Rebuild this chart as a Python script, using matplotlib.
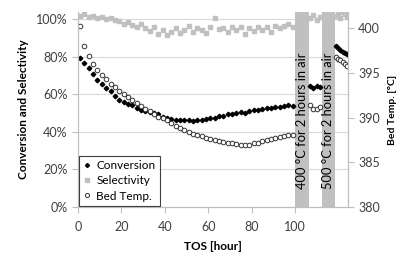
import matplotlib.pyplot as plt
from matplotlib.ticker import PercentFormatter

plt.rcParams['font.family'] = ['Lato', 'DejaVu Sans']

# time on stream before regeneration [hour]
tos = [1, 3, 5, 7, 9, 11, 13, 15, 17, 19, 21, 23, 25, 27, 29, 31, 33, 35, 37, 39,
       41, 43, 45, 47, 49, 51, 53, 55, 57, 59, 61, 63, 65, 67, 69, 71, 73, 75, 77, 79,
       81, 83, 85, 87, 89, 91, 93, 95, 97, 99]
conversion = [79, 76.5, 74, 70.5, 67.5, 65.5, 63.5, 61.5, 59, 57, 56, 55, 54, 52.5, 51.5, 51, 50.5, 50, 49.5, 48,
              47.5, 47, 46.5, 46.5, 46, 46, 45.5, 46, 46.5, 47, 47.5, 47.5, 48.5, 48.5, 49.5, 49.5, 50, 50.5, 50, 51,
              51.5, 51.5, 52, 52.5, 52.5, 53, 53, 53.5, 54, 53.5]
selectivity = [101.5, 102.5, 101, 101.5, 100.5, 101, 100, 100.5, 99.5, 99, 97.5, 98.5, 97, 96, 97.5, 95, 93.5, 95.5, 92, 94,
               91.5, 93, 95, 92.5, 94, 96.5, 93, 95, 94, 92.5, 95.5, 100.5, 94.5, 95, 93, 96, 94, 95.5, 92, 95,
               93.5, 96, 94, 95.5, 93, 96.5, 95, 96.5, 97.5, 96]
bed_temp = [400.2, 398.0, 396.9, 396.0, 395.3, 394.8, 394.3, 393.8, 393.4, 393.0, 392.6, 392.3, 392.0, 391.6, 391.3, 391.0, 390.7, 390.4, 390.1, 389.9,
            389.7, 389.4, 389.1, 388.8, 388.6, 388.4, 388.2, 388.0, 387.9, 387.7, 387.6, 387.5, 387.4, 387.3, 387.1, 387.1, 387.0, 386.9, 386.9, 386.9,
            387.1, 387.2, 387.4, 387.5, 387.6, 387.7, 387.8, 387.9, 388.1, 388.1]

# after 400 C regeneration
tos_r1 = [107, 108.5, 110, 111.5]
conversion_r1 = [64.5, 63.5, 64.5, 64]
selectivity_r1 = [100.5, 102, 99.5, 101]
bed_temp_r1 = [391.4, 391.0, 390.9, 391.2]

# after 500 C regeneration
tos_r2 = [119, 120, 121, 122, 123, 124]
conversion_r2 = [85.5, 84.5, 83.5, 82.5, 82, 81.5]
selectivity_r2 = [101.5, 103, 100.5, 104, 102.5, 101]
bed_temp_r2 = [396.8, 396.6, 396.4, 396.2, 396.0, 395.8]

bands = [(100, 106.5, "400 °C for 2 hours in air"), (112.3, 118.4, "500 °C for 2 hours in air")]

grey = "#bfbfbf"
fig = plt.figure(figsize=(4.04, 2.57), dpi=100)
ax = fig.add_axes([0.193, 0.195, 0.668, 0.758])
ax2 = ax.twinx()

for x0, x1, label in bands:
    ax.axvspan(x0, x1, color="#c0c0c0", lw=0, zorder=1)
    ax.text((x0 + x1) / 2, 0.095, label, rotation=90, ha="center", va="bottom",
            fontsize=9.3, color="black", zorder=2)

all_tos = tos + tos_r1 + tos_r2
ax.plot(all_tos, [v / 100 for v in selectivity + selectivity_r1 + selectivity_r2], ls="none",
        marker="s", ms=3.0, color="#c0c0c0", mec="#c0c0c0", zorder=3, label="Selectivity")
ax.plot(all_tos, [v / 100 for v in conversion + conversion_r1 + conversion_r2], ls="none",
        marker="D", ms=2.3, color="black", zorder=4, label="Conversion")
ax2.plot(all_tos, bed_temp + bed_temp_r1 + bed_temp_r2, ls="none", marker="o", ms=3.3,
         mfc="white", mec="#333333", mew=0.7, label="Bed Temp.")

ax.set_xlim(0, 124.4)
ax.set_ylim(0, 1.037)
ax2.set_ylim(380, 401.8)
ax.set_xticks([0, 20, 40, 60, 80, 100])
ax.set_yticks([0, 0.2, 0.4, 0.6, 0.8, 1.0])
ax.yaxis.set_major_formatter(PercentFormatter(1.0, decimals=0))
ax2.set_yticks([380, 385, 390, 395, 400])
ax.yaxis.grid(True, color="#d9d9d9", lw=0.8)
ax.set_axisbelow(True)

for a in (ax, ax2):
    a.spines["top"].set_visible(False)
    for s in ("left", "bottom", "right"):
        a.spines[s].set_color(grey)
        a.spines[s].set_linewidth(0.8)
    a.tick_params(labelsize=9, length=4, width=0.8, colors="#404040")
    a.tick_params(color=grey)
ax.tick_params(axis="x", pad=6)

ax.set_xlabel("TOS [hour]", fontsize=8.5, fontweight="bold", labelpad=6)
ax.set_ylabel("Conversion and Selectivity", fontsize=8.5, fontweight="bold", labelpad=5)
ax2.set_ylabel("Bed Temp. [°C]", fontsize=7.5, fontweight="bold", labelpad=6)

h1, l1 = ax.get_legend_handles_labels()
h2, l2 = ax2.get_legend_handles_labels()
handles = [h1[1], h1[0], h2[0]]
labels = [l1[1], l1[0], l2[0]]
leg = ax2.legend(handles, labels, loc="lower left", bbox_to_anchor=(0.0, 0.0), fontsize=8.5,
                 frameon=True, fancybox=False, edgecolor="#404040", framealpha=1,
                 handlelength=0.6, handletextpad=0.5, borderpad=0.35, labelspacing=0.35,
                 borderaxespad=0.1, markerscale=0.9)
leg.get_frame().set_linewidth(0.8)

fig.savefig("out.png", dpi=100)
